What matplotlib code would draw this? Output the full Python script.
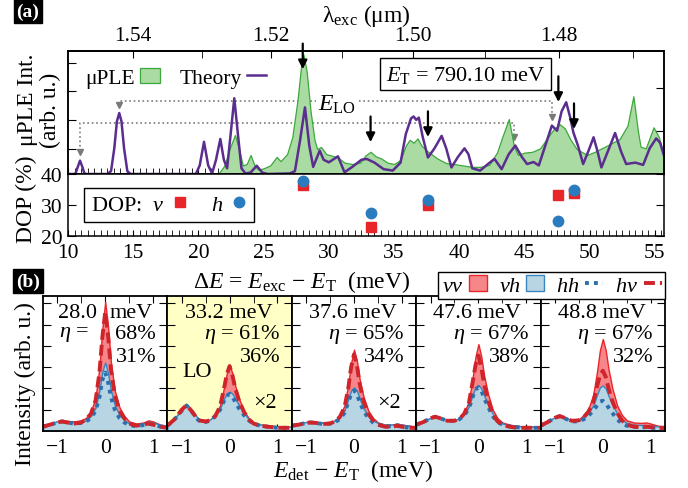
import numpy as np
import matplotlib
matplotlib.use('Agg')
import matplotlib.pyplot as plt
from matplotlib.lines import Line2D
from matplotlib.patches import Patch

plt.rcParams['font.family'] = ['Liberation Serif', 'DejaVu Serif']
plt.rcParams['mathtext.fontset'] = 'custom'
plt.rcParams['mathtext.rm'] = 'Liberation Serif'
plt.rcParams['mathtext.it'] = 'Liberation Serif:italic'
plt.rcParams['mathtext.bf'] = 'Liberation Serif:bold'
plt.rcParams['mathtext.fallback'] = 'stix'
plt.rcParams['axes.linewidth'] = 1.1

E_T = 790.10  # meV

# ---------------- panel (a) data ----------------
ple_dE = [21.0, 21.6, 22.0, 22.4, 22.8, 23.1, 23.4, 23.7, 24.0, 24.3, 24.6, 25.0, 25.5,
          26.0, 26.3, 26.8, 27.2, 27.6, 27.9, 28.05, 28.3, 28.6, 28.9, 29.1, 29.4, 29.8,
          30.2, 30.7, 31.2, 31.8, 32.4, 32.8, 33.2, 33.6, 34.0, 34.5, 35.0, 35.5, 35.9,
          36.2, 36.5, 36.8, 37.1, 37.5, 37.8, 38.3, 39.0, 39.6, 40.3, 41.0, 41.6, 42.3,
          42.9, 43.3, 43.8, 44.2, 44.5, 45.0, 45.6, 46.2, 46.7, 47.2, 47.7, 48.1, 48.5,
          49.0, 49.8, 50.4, 51.3, 52.3, 52.9, 53.35, 53.7, 53.9, 54.3, 54.9, 55.3, 55.7]
ple_int = [0.0, 0.05, 0.3, 0.9, 1.37, 0.9, 0.3, 0.35, 0.67, 0.3, 0.15, 0.2, 0.3,
           0.6, 0.45, 0.7, 1.3, 2.6, 3.9, 4.2, 3.6, 2.2, 1.2, 0.88, 0.95, 0.7,
           0.65, 0.58, 0.4, 0.35, 0.4, 0.65, 0.78, 0.62, 0.55, 0.4, 0.35, 0.5, 1.0,
           1.2, 1.1, 1.25, 1.0, 0.82, 0.72, 0.55, 0.38, 0.35, 0.3, 0.25, 0.25, 0.32,
           0.76, 1.3, 1.93, 0.96, 0.67, 0.75, 0.78, 0.9, 1.23, 1.55, 1.75, 1.6, 1.23,
           0.88, 0.67, 0.78, 0.99, 1.23, 1.7, 2.73, 1.5, 0.96, 0.9, 1.64, 1.3, 0.64]

theory_dE = [10.0, 10.5, 10.6, 10.75, 10.92, 11.1, 11.25, 11.4, 13.0, 13.3, 13.55, 13.75,
             13.93, 14.1, 14.3, 14.55, 14.8, 19.8, 20.1, 20.43, 20.75, 21.05, 21.35, 21.68,
             21.95, 22.2, 22.45, 22.75, 23.05, 23.3, 23.6, 24.0, 24.47, 24.9, 25.3, 27.0,
             27.4, 27.8, 28.17, 28.5, 28.8, 29.3, 29.6, 30.0, 30.7, 31.2, 31.8, 32.5, 32.9,
             33.5, 34.2, 34.9, 35.5, 35.9, 36.3, 36.5, 36.7, 36.9, 37.2, 37.6, 38.1, 38.65,
             39.0, 39.4, 39.9, 40.4, 40.7, 41.0, 41.6, 42.2, 42.7, 43.25, 43.8, 44.3, 44.8,
             45.2, 45.7, 46.1, 46.6, 47.1, 47.5, 47.85, 48.2, 48.5, 48.75, 49.1, 49.5, 49.9,
             50.3, 50.6, 50.9, 51.4, 51.95, 52.4, 52.8, 53.5, 54.1, 54.6, 55.1, 55.4, 55.7]
theory_int = [0.0, 0.0, 0.05, 0.25, 0.47, 0.25, 0.03, 0.0, 0.0, 0.1, 0.9, 1.85,
              2.14, 1.85, 0.9, 0.1, 0.0, 0.0, 0.3, 1.13, 0.3, 0.02, 0.5, 1.23,
              0.5, 0.2, 1.3, 2.66, 1.3, 0.2, 0.02, 0.05, 0.29, 0.05, 0.0, 0.02,
              0.1, 1.2, 2.34, 1.0, 0.25, 0.82, 0.5, 0.41, 0.62, 0.06, 0.25, 0.5, 0.53,
              0.4, 0.17, 0.12, 0.4, 1.4, 1.95, 2.02, 1.9, 1.98, 1.3, 0.58, 0.9, 1.34,
              0.9, 0.23, 0.6, 0.9, 0.7, 0.2, 0.12, 0.35, 0.53, 0.17, 0.7, 1.0, 0.6,
              0.35, 0.42, 0.3, 1.0, 1.7, 1.52, 2.2, 2.52, 2.0, 1.46, 1.0, 0.35, 0.8,
              1.29, 0.8, 0.23, 0.8, 1.44, 0.8, 0.35, 0.4, 0.32, 0.9, 1.25, 1.1, 0.64]

# LO replica pairs (dE_low, dE_high), dotted-line level and arrow tips
lo_pairs = [(13.93, 47.15), (10.92, 44.2)]
lo_levels = [2.57, 1.78]
lo_tips = [(2.35, 1.93), (0.70, 1.23)]

# DOP
dop_dE = [28.0, 33.2, 37.6, 47.6, 48.8]
dop_v = [36.5, 22.8, 30.0, 33.2, 33.9]
dop_h = [37.8, 27.4, 31.7, 24.7, 34.9]
arrow_tips = [3.68, 1.12, 1.30, 2.53, 1.58]

# ---------------- panel (b) data ----------------
det_x = [-1.3, -1.15, -1.0, -0.9, -0.8, -0.65, -0.5, -0.4, -0.3, -0.2, -0.12, -0.06, 0.0,
         0.06, 0.12, 0.2, 0.3, 0.4, 0.5, 0.65, 0.8, 0.9, 1.0, 1.15, 1.3]
panel_titles = ['28.0', '33.2', '37.6', '47.6', '48.8']
eta_top = ['68%', '61%', '65%', '67%', '67%']
eta_bot = ['31%', '36%', '34%', '38%', '32%']

vv_vals = [
    [0.3, 0.35, 0.45, 0.5, 0.48, 0.45, 0.5, 0.62, 0.9, 1.6, 3.0, 4.8, 6.07, 4.9, 3.2, 1.9, 1.1, 0.7, 0.45, 0.35, 0.4, 0.5, 0.45, 0.3, 0.25],
    [0.3, 0.6, 1.0, 1.24, 1.0, 0.55, 0.45, 0.55, 0.75, 1.2, 2.0, 2.7, 3.07, 2.7, 2.1, 1.5, 0.95, 0.6, 0.4, 0.3, 0.25, 0.22, 0.2, 0.2, 0.2],
    [0.3, 0.35, 0.42, 0.45, 0.42, 0.38, 0.4, 0.5, 0.7, 1.2, 2.2, 3.2, 3.82, 3.3, 2.4, 1.6, 0.95, 0.6, 0.4, 0.3, 0.3, 0.35, 0.3, 0.25, 0.2],
    [0.35, 0.45, 0.62, 0.69, 0.62, 0.5, 0.5, 0.6, 0.85, 1.4, 2.5, 3.5, 4.08, 3.5, 2.6, 1.75, 1.0, 0.6, 0.4, 0.3, 0.25, 0.22, 0.2, 0.2, 0.2],
    [0.3, 0.45, 0.65, 0.72, 0.65, 0.5, 0.55, 0.75, 1.05, 1.7, 2.8, 3.8, 4.32, 3.8, 2.9, 2.0, 1.2, 0.75, 0.5, 0.4, 0.38, 0.4, 0.35, 0.25, 0.2],
]
hv_vals = [
    [0.2, 0.3, 0.4, 0.45, 0.4, 0.35, 0.4, 0.55, 0.8, 1.45, 2.75, 4.4, 5.57, 4.5, 2.9, 1.7, 0.95, 0.6, 0.35, 0.25, 0.3, 0.35, 0.3, 0.2, 0.15],
    [0.25, 0.55, 1.0, 1.22, 0.95, 0.5, 0.45, 0.5, 0.7, 1.15, 1.95, 2.65, 3.05, 2.6, 2.0, 1.4, 0.9, 0.55, 0.35, 0.25, 0.2, 0.18, 0.15, 0.15, 0.15],
    [0.25, 0.3, 0.38, 0.4, 0.38, 0.33, 0.35, 0.45, 0.65, 1.1, 2.0, 3.0, 3.6, 3.1, 2.2, 1.4, 0.8, 0.5, 0.3, 0.2, 0.2, 0.25, 0.2, 0.15, 0.15],
    [0.3, 0.42, 0.6, 0.67, 0.6, 0.48, 0.48, 0.56, 0.8, 1.3, 2.3, 3.1, 3.54, 3.0, 2.2, 1.45, 0.8, 0.45, 0.3, 0.2, 0.15, 0.15, 0.15, 0.15, 0.15],
    [0.25, 0.42, 0.62, 0.7, 0.62, 0.48, 0.5, 0.65, 0.9, 1.35, 2.1, 2.6, 2.83, 2.55, 2.0, 1.4, 0.85, 0.5, 0.3, 0.2, 0.18, 0.2, 0.18, 0.15, 0.15],
]
vh_vals = [
    [0.3, 0.35, 0.45, 0.5, 0.45, 0.4, 0.42, 0.5, 0.7, 1.1, 1.9, 2.8, 3.22, 2.7, 1.9, 1.2, 0.75, 0.5, 0.35, 0.3, 0.35, 0.45, 0.4, 0.3, 0.25],
    [0.3, 0.6, 1.0, 1.24, 1.0, 0.55, 0.45, 0.55, 0.75, 1.05, 1.5, 1.75, 1.85, 1.75, 1.5, 1.2, 0.85, 0.55, 0.4, 0.3, 0.25, 0.25, 0.22, 0.2, 0.2],
    [0.3, 0.35, 0.42, 0.45, 0.42, 0.38, 0.4, 0.48, 0.62, 0.95, 1.5, 1.9, 2.05, 1.9, 1.5, 1.05, 0.7, 0.48, 0.38, 0.3, 0.3, 0.35, 0.3, 0.25, 0.2],
    [0.35, 0.45, 0.62, 0.69, 0.62, 0.5, 0.5, 0.58, 0.78, 1.15, 1.7, 2.05, 2.16, 2.0, 1.65, 1.25, 0.8, 0.5, 0.35, 0.28, 0.25, 0.22, 0.2, 0.2, 0.2],
    [0.3, 0.45, 0.65, 0.72, 0.62, 0.5, 0.5, 0.6, 0.85, 1.2, 1.7, 2.05, 2.13, 2.0, 1.65, 1.25, 0.8, 0.52, 0.38, 0.3, 0.28, 0.28, 0.25, 0.22, 0.2],
]
hh_vals = [
    [0.2, 0.3, 0.4, 0.45, 0.4, 0.35, 0.38, 0.45, 0.6, 0.95, 1.6, 2.4, 2.75, 2.3, 1.6, 1.0, 0.6, 0.4, 0.28, 0.22, 0.28, 0.35, 0.3, 0.2, 0.15],
    [0.25, 0.55, 0.95, 1.2, 0.95, 0.5, 0.42, 0.5, 0.7, 1.0, 1.4, 1.65, 1.74, 1.62, 1.35, 1.05, 0.75, 0.5, 0.33, 0.25, 0.2, 0.18, 0.15, 0.15, 0.15],
    [0.25, 0.3, 0.38, 0.4, 0.38, 0.33, 0.35, 0.42, 0.55, 0.85, 1.35, 1.75, 1.9, 1.75, 1.35, 0.95, 0.6, 0.4, 0.3, 0.22, 0.22, 0.25, 0.2, 0.15, 0.15],
    [0.3, 0.42, 0.6, 0.67, 0.6, 0.48, 0.48, 0.55, 0.72, 1.05, 1.6, 1.95, 2.05, 1.9, 1.55, 1.15, 0.7, 0.42, 0.3, 0.22, 0.18, 0.15, 0.15, 0.15, 0.15],
    [0.25, 0.42, 0.62, 0.7, 0.6, 0.45, 0.45, 0.55, 0.72, 0.95, 1.2, 1.38, 1.42, 1.3, 1.1, 0.85, 0.55, 0.35, 0.25, 0.2, 0.18, 0.18, 0.15, 0.15, 0.15],
]

# ---------------- styles ----------------
GREEN_F = '#a9dba2'
GREEN_E = '#3da83d'
PURPLE = '#5a2d8f'
RED_F = '#f7868a'
RED_E = '#e8262a'
BLUE_F = '#b7d5e2'
BLUE_E = '#3a86c0'
HH_C = '#2a6fae'
HV_C = '#d0242b'
DOT_BLUE = '#2b7bbf'
GRAY = '#7a7a7a'

W, H = 688, 489
fig = plt.figure(figsize=(W / 100, H / 100), dpi=100)


def fx(px):
    return px / W


def fy(py):
    return 1 - py / H


TICK_FS = 15.5
LAB_FS = 17
TXT_FS = 16
HH_LS = (0, (1, 1.3))
HV_LS = (0, (2.8, 1.3))

# ---------------- top panel ----------------
ax = fig.add_axes([fx(68), fy(175), (664 - 68) / W, (175 - 52) / H])
ax.fill_between(ple_dE, 0, ple_int, facecolor=GREEN_F, edgecolor=GREEN_E, lw=0.9, zorder=2)
ax.plot(theory_dE, theory_int, color=PURPLE, lw=1.8, zorder=3)
ax.set_xlim(10, 55.7)
ax.set_ylim(0, 4.32)
ax.set_yticks([0.88, 1.89, 2.91, 3.89])
ax.set_yticklabels([])
ax.xaxis.set_major_locator(matplotlib.ticker.MultipleLocator(5))
ax.xaxis.set_minor_locator(matplotlib.ticker.MultipleLocator(0.5))
ax.tick_params(axis='x', which='both', direction='in', length=4, labelbottom=False, top=False)
ax.tick_params(axis='y', direction='in', length=6, right=False)

twin = ax.twinx()
twin.set_ylim(0, 4.32 / 1.51)
twin.set_yticks([1, 2])
twin.set_yticklabels([])
twin.tick_params(axis='y', direction='in', length=6)


def de2lam(d):
    d = np.asarray(d, dtype=float)
    return 1239.84 / (E_T + d)


def lam2de(l):
    l = np.asarray(l, dtype=float)
    with np.errstate(divide='ignore'):
        return 1239.84 / l - E_T


sec = ax.secondary_xaxis('top', functions=(de2lam, lam2de))
sec.set_xticks([1.48, 1.50, 1.52, 1.54])
sec.set_xticks([1.47, 1.49, 1.51, 1.53], minor=True)
sec.xaxis.set_major_formatter(matplotlib.ticker.FormatStrFormatter('%.2f'))
sec.tick_params(which='both', direction='in', length=5, labelsize=TICK_FS, pad=4)
sec.set_xlabel(r'λ$_\mathrm{exc}$ (μm)', fontsize=LAB_FS, labelpad=4)

# LO dotted connectors
for (x1, x2), lev, (t1, t2) in zip(lo_pairs, lo_levels, lo_tips):
    ax.plot([x1, x1, x2, x2], [t1 + 0.12, lev, lev, t2 + 0.12], ls=':', color=GRAY, lw=1.2, zorder=1)
    ax.plot([x1, x2], [t1 + 0.08, t2 + 0.08], ls='none', marker='v', color=GRAY, ms=5, zorder=1)
ax.text(30.6, 2.46, r'$E_\mathrm{LO}$', fontsize=LAB_FS, ha='center', va='center',
        bbox=dict(facecolor='white', edgecolor='none', pad=1), zorder=1.5)

# black arrows
for xe, tip in zip(dop_dE, arrow_tips):
    ax.annotate('', xy=(xe, tip), xytext=(xe, tip + 0.9),
                arrowprops=dict(arrowstyle='-|>', color='k', lw=1.6, mutation_scale=13,
                                shrinkA=0, shrinkB=0), annotation_clip=False, zorder=5)

leg = ax.legend(handles=[Patch(facecolor=GREEN_F, edgecolor=GREEN_E, lw=0.9),
                         Line2D([], [], color=PURPLE, lw=1.8)],
                labels=['μPLE', 'Theory'], ncol=2, markerfirst=False, frameon=False,
                loc='upper left', bbox_to_anchor=(0.022, 0.90), borderaxespad=0,
                fontsize=15.5, handlelength=0.9, handletextpad=0.25, columnspacing=0.9,
                borderpad=0.2)
leg.set_zorder(6)

ax.text(0.667, 0.813, r'$E_\mathrm{T}$ = 790.10 meV', transform=ax.transAxes, fontsize=TXT_FS,
        ha='center', va='center', zorder=6,
        bbox=dict(boxstyle='square,pad=0.25', facecolor='white', edgecolor='k', lw=1))

# ---------------- DOP panel ----------------
ad = fig.add_axes([fx(68), fy(237), (664 - 68) / W, (237 - 175) / H])
ad.plot(dop_dE, dop_v, ls='none', marker='s', color=RED_E, ms=7.5, zorder=3)
ad.plot(dop_dE, dop_h, ls='none', marker='o', color=DOT_BLUE, ms=7.5, zorder=3)
ad.set_xlim(10, 55.7)
ad.set_ylim(20, 40)
ad.set_yticks([20, 30, 40])
ad.xaxis.set_major_locator(matplotlib.ticker.MultipleLocator(5))
ad.xaxis.set_minor_locator(matplotlib.ticker.MultipleLocator(0.5))
ad.tick_params(axis='x', which='both', direction='in', length=4, labelsize=TICK_FS, pad=5)
ad.tick_params(axis='y', direction='in', length=6, right=True, labelsize=TICK_FS, pad=4)
dleg = ad.legend(handles=[Line2D([], [], ls='none', marker='s', color=RED_E, ms=7.5),
                          Line2D([], [], ls='none', marker='o', color=DOT_BLUE, ms=7.5)],
                 labels=['DOP:  $v$', '$h$'], ncol=2, markerfirst=False, loc='upper left',
                 bbox_to_anchor=(0.027, 0.774), borderaxespad=0, fontsize=TXT_FS,
                 fancybox=False, edgecolor='k', framealpha=1, handlelength=0.8,
                 handletextpad=0.3, columnspacing=1.0, borderpad=0.3)
dleg.get_frame().set_linewidth(1)
fig.text(fx(302), fy(282), r'$\Delta E$ = $E_\mathrm{exc}$ − $E_\mathrm{T}$  (meV)',
         fontsize=LAB_FS, ha='center', va='center')

# ---------------- bottom panels ----------------
pw = 124.4
for i in range(5):
    b = fig.add_axes([fx(43 + i * pw), fy(432), pw / W, (432 - 297) / H])
    if i == 1:
        b.set_facecolor('#ffffc6')
    b.fill_between(det_x, 0, vv_vals[i], facecolor=RED_F, edgecolor=RED_E, lw=1, zorder=2)
    b.fill_between(det_x, 0, vh_vals[i], facecolor=BLUE_F, edgecolor=BLUE_E, lw=1, zorder=3)
    b.plot(det_x, hh_vals[i], ls=HH_LS, color=HH_C, lw=2.8, zorder=4)
    b.plot(det_x, hv_vals[i], ls=HV_LS, color=HV_C, lw=2.8, zorder=5)
    b.set_xlim(-1.3, 1.3)
    b.set_ylim(0, 6.34)
    b.set_xticks([-1, 0, 1])
    b.set_xticks([-0.5, 0.5], minor=True)
    b.set_yticks([1, 2, 3, 4, 5, 6])
    b.set_yticklabels([])
    b.tick_params(axis='x', which='both', direction='in', length=5, top=True,
                  labelsize=TICK_FS, pad=5)
    b.tick_params(axis='y', direction='in', length=6, right=True)
    for sp in b.spines.values():
        sp.set_linewidth(1.3)
        sp.set_zorder(10)
    if i == 0:
        b.text(0.28, 0.88, panel_titles[i], transform=b.transAxes, fontsize=TXT_FS, ha='center', va='center', zorder=1)
        b.text(0.71, 0.88, 'meV', transform=b.transAxes, fontsize=TXT_FS, ha='center', va='center', zorder=1)
        b.text(0.253, 0.72, r'$\eta$ =', transform=b.transAxes, fontsize=TXT_FS, ha='center', va='center', zorder=1)
        b.text(0.91, 0.72, eta_top[i], transform=b.transAxes, fontsize=TXT_FS, ha='right', va='center', zorder=1)
    else:
        b.text(0.49, 0.88, panel_titles[i] + ' meV', transform=b.transAxes, fontsize=TXT_FS,
               ha='center', va='center', zorder=1)
        b.text(0.91, 0.72, r'$\eta$ = ' + eta_top[i], transform=b.transAxes, fontsize=TXT_FS,
               ha='right', va='center', zorder=1)
    b.text(0.91, 0.55, eta_bot[i], transform=b.transAxes, fontsize=TXT_FS, ha='right', va='center', zorder=1)
    if i == 1:
        b.text(0.24, 0.44, 'LO', transform=b.transAxes, fontsize=TXT_FS, ha='center', va='center')
    if i in (1, 2):
        b.text(0.785, 0.21, '×2', transform=b.transAxes, fontsize=TXT_FS, ha='center', va='center', zorder=6)

bleg = fig.legend(handles=[Patch(facecolor=RED_F, edgecolor=RED_E, lw=1),
                           Patch(facecolor=BLUE_F, edgecolor=BLUE_E, lw=1),
                           Line2D([], [], ls=HH_LS, color=HH_C, lw=2.8),
                           Line2D([], [], ls=HV_LS, color=HV_C, lw=2.8)],
                  labels=['$vv$', '$vh$', '$hh$', '$hv$'], ncol=4, markerfirst=False,
                  loc='upper right', bbox_to_anchor=(fx(665), fy(273)), fontsize=TXT_FS,
                  fancybox=False, edgecolor='k', framealpha=1, handlelength=0.8,
                  handletextpad=0.25, columnspacing=0.55, borderpad=0.15, borderaxespad=0)
bleg.get_frame().set_linewidth(1)

fig.text(fx(353), fy(471), r'$E_\mathrm{det}$ − $E_\mathrm{T}$  (meV)', fontsize=LAB_FS,
         ha='center', va='center')

# axis labels
fig.text(fx(28), fy(100), 'μPLE Int.', rotation=90, fontsize=LAB_FS, ha='center', va='center')
fig.text(fx(50), fy(110), '(arb. u.)', rotation=90, fontsize=LAB_FS, ha='center', va='center')
fig.text(fx(26), fy(199), 'DOP (%)', rotation=90, fontsize=LAB_FS, ha='center', va='center')
fig.text(fx(25), fy(384), 'Intensity (arb. u.)', rotation=90, fontsize=LAB_FS, ha='center', va='center')

# panel tags
for tag, (px, py) in [('(a)', (28, 12)), ('(b)', (28, 282))]:
    fig.text(fx(px), fy(py), tag, color='white', fontsize=14, fontweight='bold', ha='center',
             va='center', bbox=dict(boxstyle='square,pad=0.15', facecolor='black', edgecolor='black'))

fig.savefig('out.png', dpi=100)
